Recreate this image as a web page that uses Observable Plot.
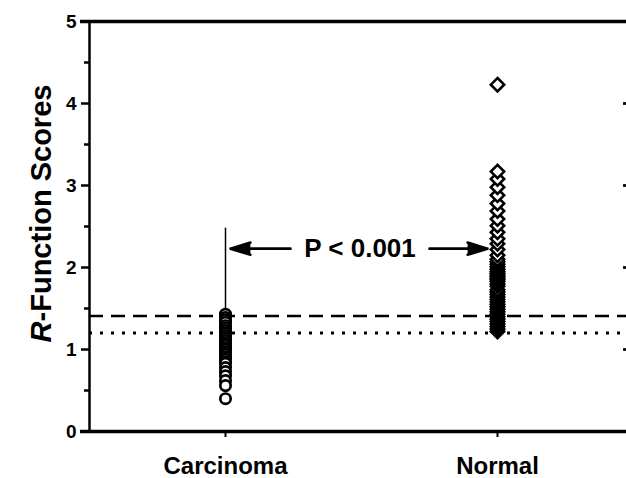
<!DOCTYPE html>
<html>
<head>
<meta charset="utf-8">
<script src="https://cdn.jsdelivr.net/npm/d3@7"></script>
<script src="https://cdn.jsdelivr.net/npm/@observablehq/plot@0.6"></script>
<style>
  html, body { margin: 0; padding: 0; background: #fff; }
</style>
</head>
<body>
<div id="chart"></div>
<script>
const categories = ["Carcinoma", "Normal"];
const carcinomaScores = [1.43, 1.39, 1.36, 1.33, 1.29, 1.26, 1.23, 1.20, 1.17, 1.14, 1.11, 1.08, 1.05, 1.02, 1.00, 0.97, 0.94, 0.91, 0.88, 0.85, 0.83, 0.78, 0.73, 0.68, 0.62, 0.56, 0.40];
const normalScores = [1.22, 1.25, 1.28, 1.31, 1.34, 1.37, 1.40, 1.43, 1.46, 1.49, 1.52, 1.55, 1.58, 1.61, 1.64, 1.67, 1.70, 1.73, 1.77, 1.80, 1.83, 1.85, 1.87, 1.89, 1.91, 1.93, 1.95, 1.98, 2.01, 2.04, 2.07, 2.10, 2.15, 2.22, 2.29, 2.35, 2.43, 2.51, 2.59, 2.69, 2.78, 2.88, 2.98, 3.08, 3.17, 4.23];
const yTicks = [0, 1, 2, 3, 4, 5];
const yMinorTicks = [0.5, 1.5, 2.5, 3.5, 4.5];
const rightTicks = [1, 2, 3, 4];
const dashedCutoff = [1.41];
const dottedCutoff = [1.20];
const pLabel = "P < 0.001";
const bracketY = 2.23;
const bracketTop = 2.48;
const yTitle = "R-Function Scores";

const carcData = carcinomaScores.map(s => ({group: categories[0], score: s}));
const normData = normalScores.map(s => ({group: categories[1], score: s}));

const font = "'Liberation Sans', Arial, Helvetica, sans-serif";

const chart = Plot.plot({
  width: 626,
  height: 478,
  marginLeft: 89,
  marginRight: 0,
  marginTop: 21,
  marginBottom: 47,
  style: {fontFamily: font, background: "#fff", color: "#000"},
  x: {type: "point", domain: categories, padding: 0.487, align: 0.513},
  y: {domain: [0, 5]},
  marks: [
    Plot.ruleY(dashedCutoff, {stroke: "#000", strokeWidth: 2.5, strokeDasharray: "14,8"}),
    Plot.ruleY(dottedCutoff, {stroke: "#000", strokeWidth: 3, strokeDasharray: "3,8"}),
    Plot.ruleX([categories[0]], {y1: d3.max(carcinomaScores), y2: bracketTop, stroke: "#000", strokeWidth: 1.5}),
    Plot.arrow([0], {x1: () => categories[1], x2: () => categories[0], y1: () => bracketY, y2: () => bracketY,
      insetStart: 207, insetEnd: 5, headLength: 12, headAngle: 34, stroke: "#000", fill: "#000", strokeWidth: 2.6}),
    Plot.arrow([0], {x1: () => categories[0], x2: () => categories[1], y1: () => bracketY, y2: () => bracketY,
      insetStart: 204, insetEnd: 10, headLength: 12, headAngle: 34, stroke: "#000", fill: "#000", strokeWidth: 2.6}),
    Plot.text([pLabel], {text: d => d, y: () => bracketY, frameAnchor: "middle", dx: 2,
      fontSize: 26, fontWeight: "bold", fill: "#000"}),
    Plot.dot(carcData, {x: "group", y: "score", r: 5.2, symbol: "circle", stroke: "#000", fill: "#fff", strokeWidth: 2.7}),
    Plot.dot(normData, {x: "group", y: "score", r: 6.0, symbol: "diamond2", stroke: "#000", fill: "#fff", strokeWidth: 2.6}),
    Plot.frame({anchor: "left", stroke: "#000", strokeWidth: 2.5}),
    Plot.ruleY([0], {stroke: "#000", strokeWidth: 3.5, insetLeft: -9}),
    Plot.ruleY([5], {stroke: "#000", strokeWidth: 3.5, insetLeft: -9}),
    Plot.axisY(yTicks, {tickSize: 8, tickPadding: 5, tickFormat: d => String(d), fontSize: 19, fontWeight: "bold", strokeWidth: 2.5, label: null}),
    Plot.axisY(yMinorTicks, {tickSize: 5, tickFormat: () => "", strokeWidth: 2.5, label: null}),
    Plot.axisX({tickSize: 6, tickPadding: 19, fontSize: 24, fontWeight: "bold", strokeWidth: 2, label: null}),
    Plot.dot(rightTicks, {y: d => d, frameAnchor: "right", dx: -2, symbol: "square", r: 1.6, fill: "#000"}),
    Plot.text([yTitle], {text: d => d, frameAnchor: "left", textAnchor: "middle", lineAnchor: "middle",
      dx: -48, dy: -13, rotate: -90, fontSize: 29, fontWeight: "bold", fill: "#000", className: "ytitle"})
  ]
});

document.getElementById("chart").appendChild(chart);

// italicize the leading "R" of the y-axis title
d3.select(chart).selectAll(".ytitle text").each(function() {
  const t = d3.select(this);
  const s = t.text();
  t.text(null);
  t.append("tspan").attr("font-style", "italic").text(s.slice(0, 1));
  t.append("tspan").text(s.slice(1));
});
</script>
</body>
</html>
